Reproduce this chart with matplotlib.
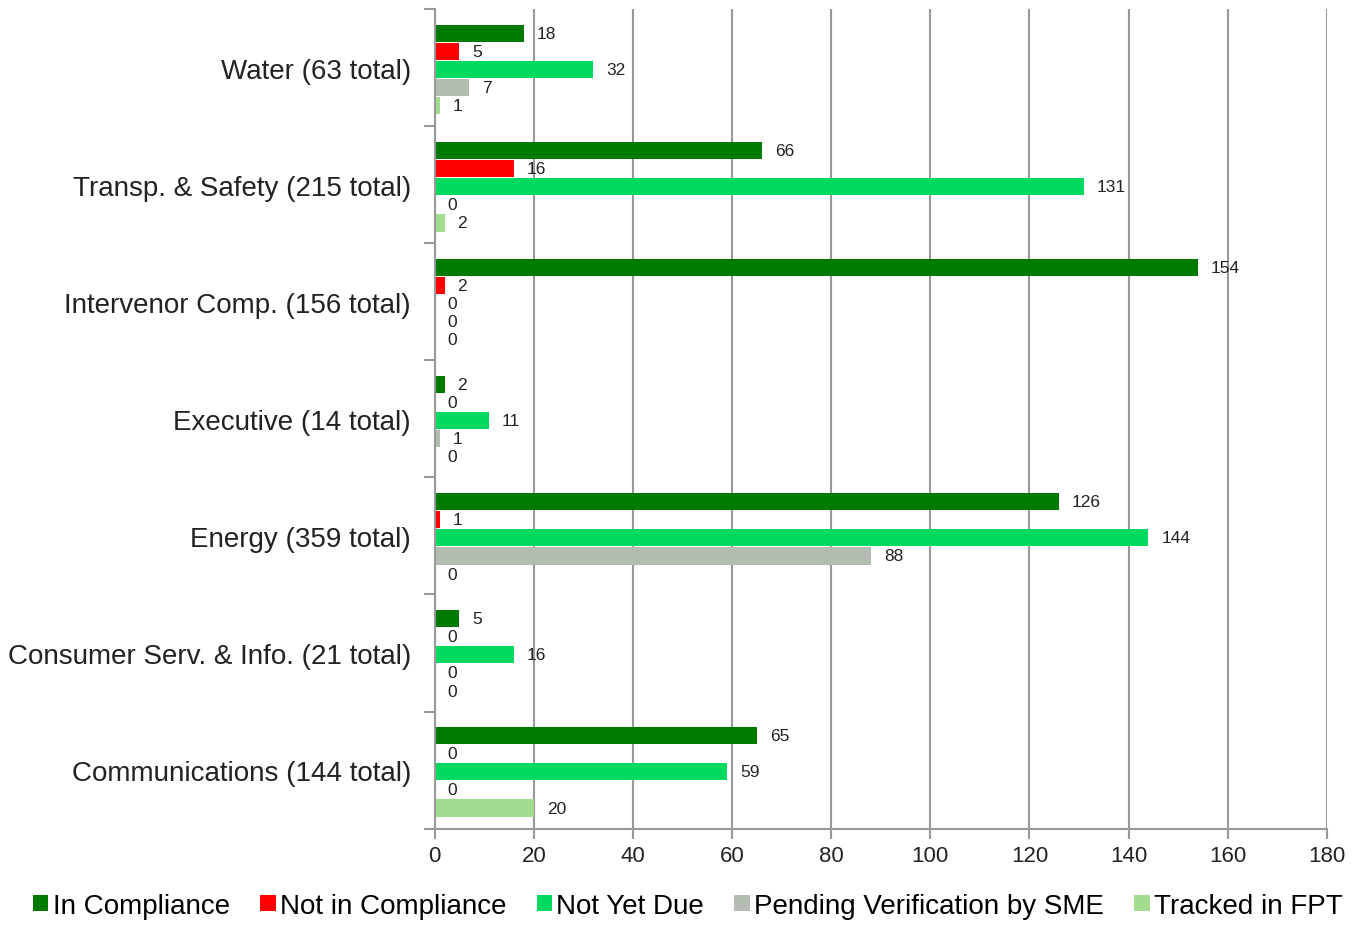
import numpy as np
import matplotlib.pyplot as plt

categories = ['Water (63 total)', 'Transp. & Safety (215 total)', 'Intervenor Comp. (156 total)',
              'Executive (14 total)', 'Energy (359 total)', 'Consumer Serv. & Info. (21 total)',
              'Communications (144 total)']
series_names = ['In Compliance', 'Not in Compliance', 'Not Yet Due',
                'Pending Verification by SME', 'Tracked in FPT']
in_compliance = [18, 66, 154, 2, 126, 5, 65]
not_in_compliance = [5, 16, 2, 0, 1, 0, 0]
not_yet_due = [32, 131, 0, 11, 144, 16, 59]
pending_sme = [7, 0, 0, 1, 88, 0, 0]
tracked_fpt = [1, 2, 0, 0, 0, 0, 20]
colors = ['#007A00', '#FF0000', '#00D95F', '#B2BCB0', '#A2DC8E']

series = [in_compliance, not_in_compliance, not_yet_due, pending_sme, tracked_fpt]

plt.rcParams['font.family'] = ['Liberation Sans', 'DejaVu Sans']

fig = plt.figure(figsize=(13.54, 9.29), dpi=100)
ax = fig.add_axes([0.321, 0.107, 0.659, 0.882])

n_cat = len(categories)
y_centers = np.arange(n_cat)[::-1]  # first category on top
bar_h = 0.148
step = 0.155

for i, (name, vals, col) in enumerate(zip(series_names, series, colors)):
    ys = y_centers + (2 - i) * step - 0.015
    ax.barh(ys, vals, height=bar_h, color=col, label=name)
    for y, v in zip(ys, vals):
        ax.text(v + 2.6, y, str(v), va='center', ha='left', fontsize=12.5, color='#222222')

ax.set_xlim(0, 180)
ax.set_ylim(-0.5, n_cat - 0.5)
ax.set_xticks(np.arange(0, 181, 20))
ax.tick_params(axis='x', labelsize=16, colors='#999999', labelcolor='#222222',
               length=7, width=1.5, pad=5)

ax.set_yticks(y_centers)
ax.set_yticklabels(categories, fontsize=20, color='#222222')
ax.tick_params(axis='y', length=0, pad=17)
# boundary ticks
ax.set_yticks(np.arange(-0.5, n_cat, 1.0), minor=True)
ax.tick_params(axis='y', which='minor', length=8, width=1.5, colors='#999999')

ax.grid(axis='x', color='#999999', linewidth=1.5)
ax.set_axisbelow(True)
for s in ['top', 'right']:
    ax.spines[s].set_visible(False)
for s in ['left', 'bottom']:
    ax.spines[s].set_color('#999999')
    ax.spines[s].set_linewidth(1.5)

fig.legend(loc='lower center', bbox_to_anchor=(0.508, -0.008), ncol=5, frameon=False,
           fontsize=20, handlelength=0.55, handleheight=0.55, handletextpad=0.15,
           columnspacing=1.1, borderaxespad=0.2)

fig.savefig('out.png', dpi=100)
